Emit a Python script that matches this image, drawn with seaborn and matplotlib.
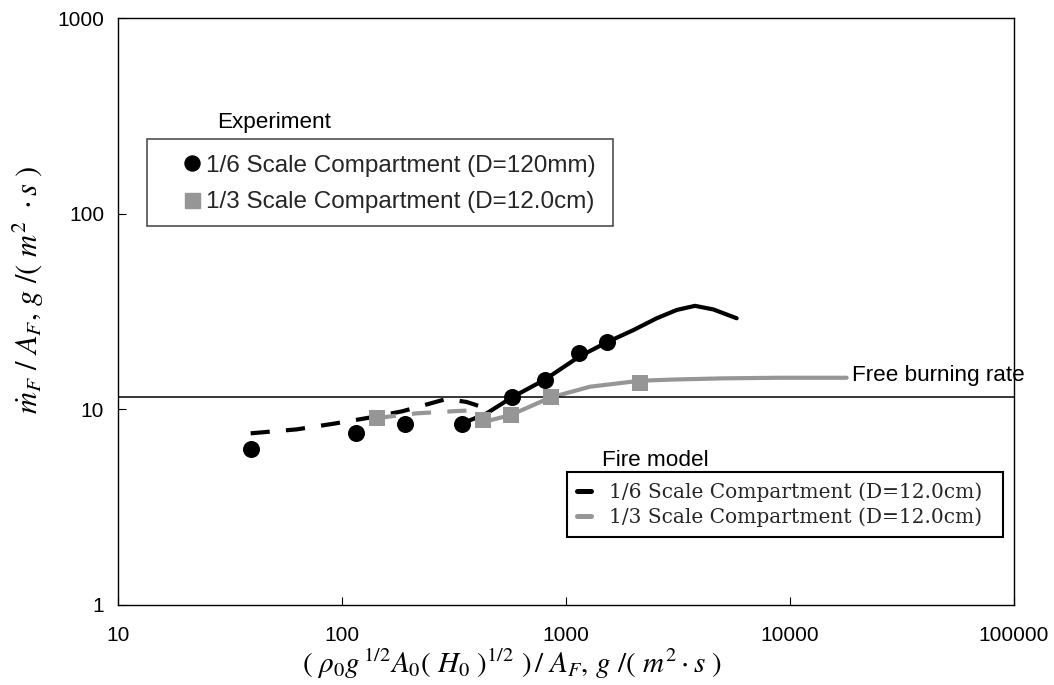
import matplotlib
matplotlib.use("Agg")
import matplotlib.pyplot as plt
import seaborn as sns
import pandas as pd
from matplotlib.lines import Line2D
from matplotlib.patches import Rectangle

# ---------------- data ----------------
exp16_x = [39.1, 115, 192, 344, 573, 806, 1145, 1521]
exp16_y = [6.3, 7.54, 8.38, 8.38, 11.5, 14.2, 19.5, 22.0]

exp13_x = [143, 426, 566, 854, 2140]
exp13_y = [9.0, 8.83, 9.35, 11.5, 13.7]

mod16_dash_x = [39.1, 62.8, 91.5, 129.7, 185.9, 269, 293.4, 360.3, 442.6]
mod16_dash_y = [7.54, 7.90, 8.44, 9.03, 9.77, 11.0, 11.3, 10.9, 10.1]

mod16_solid_x = [345.8, 442.6, 573, 806, 1145, 1521, 1997, 2541, 3121, 3766, 4546, 5781]
mod16_solid_y = [8.48, 9.54, 11.5, 14.2, 18.6, 22.0, 25.4, 29.2, 32.2, 33.8, 32.4, 29.2]

mod13_dash_x = [143, 215.6, 325, 384.5]
mod13_dash_y = [9.03, 9.54, 9.80, 9.88]

mod13_solid_x = [406, 566, 854, 1280, 2140, 3013, 5037, 9024, 17910]
mod13_solid_y = [8.48, 9.35, 11.5, 13.05, 14.0, 14.2, 14.4, 14.5, 14.5]

free_burning = 11.5

x_ticks = [10, 100, 1000, 10000, 100000]
y_ticks = [1, 10, 100, 1000]

exp_labels = ["1/6 Scale Compartment (D=120mm)", "1/3 Scale Compartment (D=12.0cm)"]
mod_labels = ["1/6 Scale Compartment (D=12.0cm)", "1/3 Scale Compartment (D=12.0cm)"]

# ---------------- style ----------------
sns.set_theme(style="white")
plt.rcParams["font.family"] = ["Liberation Sans", "DejaVu Sans"]
plt.rcParams["mathtext.fontset"] = "stix"

BLACK = "#000000"
GREY = "#969696"

W, H = 1054, 685
fig = plt.figure(figsize=(W / 100, H / 100), dpi=100)
AX_L, AX_R, AX_T, AX_B = 118, 1014, 18, 605
ax = fig.add_axes([AX_L / W, (H - AX_B) / H, (AX_R - AX_L) / W, (AX_B - AX_T) / H])


def fx(px):
    return (px - AX_L) / (AX_R - AX_L)


def fy(py):
    return (AX_B - py) / (AX_B - AX_T)


lw = 3.0
dash = (4.6, 3.9)


def seg(x, y):
    return pd.DataFrame({"x": x, "y": y})


sns.lineplot(data=seg(mod16_dash_x, mod16_dash_y), x="x", y="y", ax=ax, color=BLACK,
             lw=lw, sort=False, estimator=None, linestyle=(0, dash))
sns.lineplot(data=seg(mod16_solid_x, mod16_solid_y), x="x", y="y", ax=ax, color=BLACK,
             lw=lw, sort=False, estimator=None)
sns.lineplot(data=seg(mod13_dash_x, mod13_dash_y), x="x", y="y", ax=ax, color=GREY,
             lw=lw, sort=False, estimator=None, linestyle=(0, dash))
sns.lineplot(data=seg(mod13_solid_x, mod13_solid_y), x="x", y="y", ax=ax, color=GREY,
             lw=lw, sort=False, estimator=None)

sns.scatterplot(data=seg(exp16_x, exp16_y), x="x", y="y", ax=ax, color=BLACK, marker="o",
                s=150, edgecolor=BLACK, linewidth=0, zorder=5)
sns.scatterplot(data=seg(exp13_x, exp13_y), x="x", y="y", ax=ax, color=GREY, marker="s",
                s=144, edgecolor=GREY, linewidth=0, zorder=5)

ax.axhline(free_burning, color=BLACK, lw=1.1, zorder=2)

ax.set_xscale("log")
ax.set_yscale("log")
ax.set_xlim(10, 100000)
ax.set_ylim(1, 1000)
ax.set_xticks(x_ticks)
ax.set_xticklabels([str(v) for v in x_ticks])
ax.set_yticks(y_ticks)
ax.set_yticklabels([str(v) for v in y_ticks])
ax.minorticks_off()
ax.tick_params(axis="both", which="major", direction="in", length=6, width=0.8,
               labelsize=15, colors=BLACK, left=True, bottom=True)
ax.tick_params(axis="x", pad=15)
ax.tick_params(axis="y", pad=10)

for s in ax.spines.values():
    s.set_color(BLACK)
    s.set_linewidth(1.0)

ax.set_xlabel(r"$(\ \rho_0 g^{\,1/2} A_0(\ H_0\ )^{1/2}\ )\,/\ A_F,\, g\ /(\ m^2\cdot s\ )$",
              fontsize=21, color=BLACK)
ax.xaxis.label.set_va("center")
ax.xaxis.set_label_coords(fx(512), fy(664))
ax.set_ylabel(r"$\dot{m}_F\ /\ A_F,\, g\ /(\ m^2\ \cdot s\ )$", fontsize=22, color=BLACK)
ax.yaxis.label.set_va("center")
ax.yaxis.set_label_coords(fx(28), fy(290))

# Experiment legend (frame drawn as a rectangle, entries as a frameless legend)
ax.add_patch(Rectangle((fx(147), fy(226)), fx(613) - fx(147), fy(139) - fy(226),
                       transform=ax.transAxes, fill=True, facecolor="white",
                       edgecolor="#404040", lw=1.1, zorder=6, clip_on=False))
exp_handles = [Line2D([], [], ls="none", marker="o", color=BLACK, markersize=10.8),
               Line2D([], [], ls="none", marker="s", color=GREY, markersize=10.8)]
leg1 = ax.legend(exp_handles, exp_labels, loc="center left",
                 bbox_to_anchor=(fx(182.3), fy(184)), frameon=False, fontsize=17.5,
                 handlelength=0.8, handletextpad=0.16, borderpad=0, labelspacing=0.59,
                 borderaxespad=0)
leg1.set_zorder(7)
ax.add_artist(leg1)
ax.text(fx(217), fy(128.3), "Experiment", transform=ax.transAxes, fontsize=16.2,
        color=BLACK, ha="left", va="baseline")

# Fire model legend
ax.add_patch(Rectangle((fx(567), fy(537)), fx(1003) - fx(567), fy(472) - fy(537),
                       transform=ax.transAxes, fill=True, facecolor="white",
                       edgecolor=BLACK, lw=1.5, zorder=6, clip_on=False))
mod_handles = [Line2D([], [], color=BLACK, lw=3.6), Line2D([], [], color=GREY, lw=3.6)]
leg2 = ax.legend(mod_handles, mod_labels, loc="center left",
                 bbox_to_anchor=(fx(577), fy(504.5)), frameon=False,
                 handlelength=0.7, handletextpad=0.9, borderpad=0, labelspacing=0.27,
                 borderaxespad=0, prop={"family": "DejaVu Serif", "size": 14.5})
leg2.set_zorder(7)
ax.text(fx(602), fy(466), "Fire model", transform=ax.transAxes, fontsize=16.2,
        color=BLACK, ha="left", va="baseline")

ax.text(fx(852), fy(380.7), "Free burning rate", transform=ax.transAxes, fontsize=16.2,
        color=BLACK, ha="left", va="baseline", clip_on=False)

fig.savefig("out.png", dpi=100, facecolor="white")
